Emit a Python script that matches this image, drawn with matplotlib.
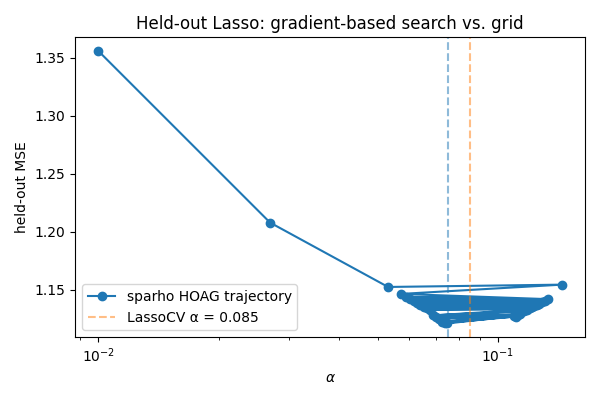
import matplotlib
matplotlib.use("Agg")
import matplotlib.pyplot as plt

# trajectory of the gradient-based search
alpha_path = [0.0100, 0.0269, 0.0531, 0.1445, 0.0572, 0.1334, 0.0590, 0.1310,
              0.0603, 0.1290, 0.0615, 0.1270, 0.0628, 0.1250, 0.0640, 0.1230,
              0.0652, 0.1215, 0.0663, 0.1203, 0.0675, 0.1185, 0.0689, 0.1165,
              0.0700, 0.1137, 0.0712, 0.1120, 0.0724, 0.1109, 0.0735, 0.1100,
              0.0745]
mse_path = [1.3560, 1.2080, 1.1525, 1.1545, 1.1465, 1.1420, 1.1440, 1.1405,
            1.1420, 1.1395, 1.1400, 1.1380, 1.1385, 1.1370, 1.1370, 1.1360,
            1.1355, 1.1350, 1.1345, 1.1340, 1.1330, 1.1330, 1.1280, 1.1320,
            1.1270, 1.1292, 1.1250, 1.1285, 1.1225, 1.1270, 1.1215, 1.1275,
            1.1210]

sparho_alpha = 0.075
lassocv_alpha = 0.085

fig, ax = plt.subplots(figsize=(6, 4), dpi=100)
ax.plot(alpha_path, mse_path, "o-", color="C0", label="sparho HOAG trajectory")
ax.axvline(sparho_alpha, color="C0", ls="--", alpha=0.5)
ax.axvline(lassocv_alpha, color="C1", ls="--", alpha=0.5,
           label="LassoCV \u03b1 = %.3f" % lassocv_alpha)
ax.set_xscale("log")
ax.set_xlabel(r"$\alpha$")
ax.set_ylabel("held-out MSE")
ax.set_title("Held-out Lasso: gradient-based search vs. grid")
ax.legend(loc="lower left")
fig.tight_layout()
fig.savefig("out.png")
